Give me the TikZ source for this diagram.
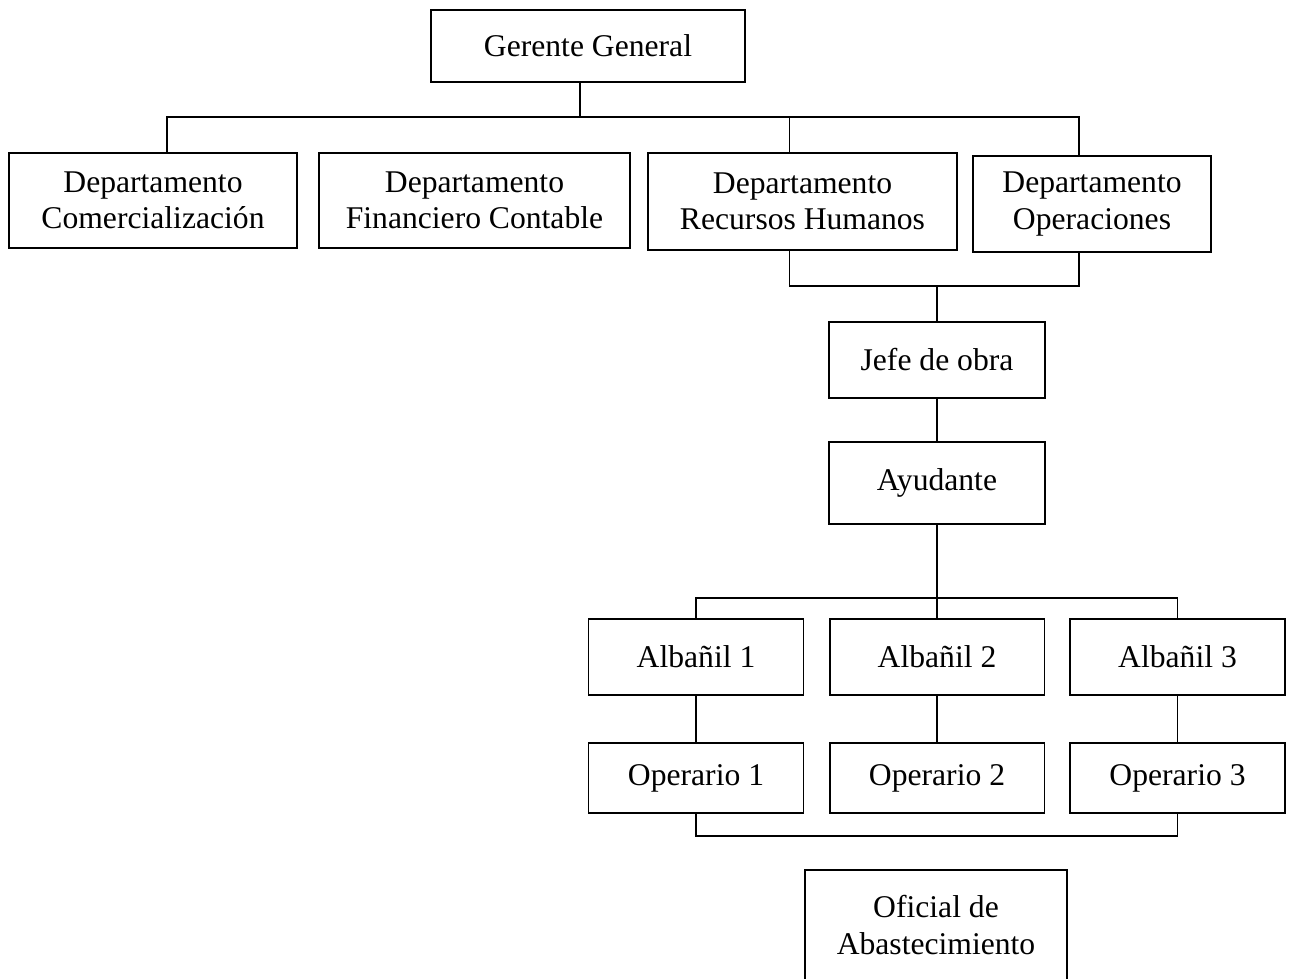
\documentclass[tikz,border=0pt]{standalone}
\usepackage{fontspec}
\setmainfont{Liberation Serif}
\usepackage{tikz}

\begin{document}
\begin{tikzpicture}[x=0.02cm, y=-0.02cm, line width=1.1pt,
		caja/.style={draw, rectangle, align=center, inner sep=2pt, font=\fontsize{18}{20.5}\selectfont}]
				\clip (0, 0) rectangle (1290, 978);
				% \draw [step=50, gray, very thin] (0, 0) grid (1290, 978);
				\node [caja, minimum width=6.28cm, minimum height=1.44cm] (gerente) at (588, 46) {Gerente General};
				\node [caja, minimum width=5.76cm, minimum height=1.9cm] (comer) at (153, 200.5) {Departamento\\Comercialización};
				\node [caja, minimum width=6.22cm, minimum height=1.9cm] (finan) at (474.5, 200.5) {Departamento\\Financiero Contable};
				\node [caja, minimum width=6.18cm, minimum height=1.94cm] (rrhh) at (802.5, 201.5) {Departamento\\Recursos Humanos};
				\node [caja, minimum width=4.76cm, minimum height=1.92cm] (oper) at (1092, 204) {Departamento\\Operaciones};
				\node [caja, minimum width=4.32cm, minimum height=1.52cm] (jefe) at (937, 360) {Jefe de obra};
				\node [caja, minimum width=4.32cm, minimum height=1.64cm] (ayud) at (937, 483) {Ayudante};
				\foreach \i/\x in {1/696, 2/937, 3/1177.5} {
					\node [caja, minimum width=4.3cm, minimum height=1.52cm] (alb\i) at (\x, 657) {Albañil \i};
					\node [caja, minimum width=4.3cm, minimum height=1.4cm] (op\i) at (\x, 778) {Operario \i};
					\draw (alb\i) -- (op\i);
				}
				\node [caja, minimum width=5.24cm, minimum height=2.2cm] (oficial) at (936, 925) {Oficial de\\Abastecimiento};
				\coordinate (bus1) at (580, 117);
				\coordinate (bus2) at (937, 286);
				\coordinate (bus3) at (937, 598);
				\coordinate (bus4) at (937, 836);
				\draw ([xshift=-.16cm]gerente.south) -- (bus1);
				\draw ([xshift=.28cm]comer.north) |- (bus1) -| ([xshift=-.26cm]oper.north);
				\draw ([xshift=-.26cm]rrhh.north) -- ([xshift=-.26cm]rrhh.north |- bus1);
				\draw ([xshift=-.26cm]rrhh.south) |- (bus2) -| ([xshift=-.26cm]oper.south);
				\draw (bus2) -- (jefe.north);
				\draw (jefe) -- (ayud);
				\draw (ayud) -- (bus3);
				\draw (alb1.north) |- (bus3) -| (alb3.north);
				\draw (bus3) -- (alb2.north);
				\draw (op1.south) |- (bus4) -| (op3.south);
			\end{tikzpicture}
\end{document}
